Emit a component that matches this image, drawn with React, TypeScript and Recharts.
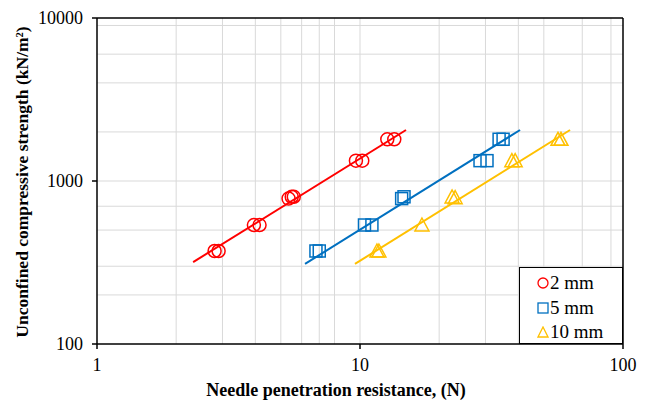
import React from "react";
import { ComposedChart, Scatter, XAxis, YAxis, CartesianGrid, ReferenceLine } from "recharts";

// needle penetration resistance (N) vs unconfined compressive strength (kN/m2)
const red2mmX = [2.8, 2.9, 3.95, 4.15, 5.35, 5.5, 5.6, 9.65, 10.2, 12.7, 13.5];
const red2mmY = [372, 372, 537, 537, 780, 800, 800, 1333, 1333, 1803, 1803];
const blue5mmX = [6.8, 7.0, 10.4, 11.1, 14.4, 14.7, 28.6, 30.4, 33.8, 35.0];
const blue5mmY = [372, 372, 537, 537, 780, 800, 1333, 1333, 1803, 1803];
const yel10mmX = [11.6, 11.8, 17.2, 22.4, 23.0, 37.8, 38.9, 56.6, 58.1];
const yel10mmY = [372, 372, 537, 798, 790, 1333, 1333, 1803, 1803];

// fitted trend lines (start/end)
const fit2mm = { x: [2.32, 14.96], y: [318, 2055] };
const fit5mm = { x: [6.18, 40.6], y: [310, 2055] };
const fit10mm = { x: [9.57, 62.9], y: [310, 2055] };

const xTicks = [1, 10, 100];
const yTicks = [100, 1000, 10000];
const xGrid = [2, 3, 4, 5, 6, 7, 8, 9, 10, 20, 30, 40, 50, 60, 70, 80, 90];
const yGrid = [200, 300, 400, 500, 600, 700, 800, 900, 1000, 2000, 3000, 4000, 5000, 6000, 7000, 8000, 9000];

const RED = "#FF0000";
const BLUE = "#0070C0";
const YEL = "#FFC000";
const FONT = "'Liberation Serif', 'Times New Roman', serif";

const toPts = (xs: number[], ys: number[]) => xs.map((x, i) => ({ x, y: ys[i] }));

const Circle = (p: any) => (
  <circle cx={p.cx} cy={p.cy} r={6.5} fill="none" stroke={RED} strokeWidth={1.5} />
);
const Square = (p: any) => (
  <rect x={p.cx - 6} y={p.cy - 6} width={12} height={12} fill="none" stroke={BLUE} strokeWidth={1.5} />
);
const Triangle = (p: any) => (
  <polygon
    points={`${p.cx},${p.cy - 7} ${p.cx - 7},${p.cy + 6} ${p.cx + 7},${p.cy + 6}`}
    fill="none"
    stroke={YEL}
    strokeWidth={1.5}
  />
);
const NoDot = () => <g />;

const legendItems = [
  { label: "2 mm", kind: "circle", color: RED },
  { label: "5 mm", kind: "square", color: BLUE },
  { label: "10 mm", kind: "triangle", color: YEL },
];

function LegendIcon({ kind, color }: { kind: string; color: string }) {
  return (
    <svg width={12} height={12} style={{ marginRight: 1 }}>
      {kind === "circle" && <circle cx={6} cy={6} r={5} fill="none" stroke={color} strokeWidth={1.3} />}
      {kind === "square" && <rect x={1} y={1} width={10} height={10} fill="none" stroke={color} strokeWidth={1.3} />}
      {kind === "triangle" && <polygon points="6,1 1,11 11,11" fill="none" stroke={color} strokeWidth={1.3} />}
    </svg>
  );
}

export default function App() {
  return (
    <div style={{ position: "absolute", left: 0, top: 0, width: 647, height: 401, background: "#fff", fontFamily: FONT, overflow: "hidden" }}>
      <ComposedChart width={647} height={401} margin={{ top: 18, right: 24, left: 37, bottom: 27 }}>
        <CartesianGrid
          stroke="#d9d9d9"
          strokeWidth={1}
          verticalValues={xGrid}
          horizontalValues={yGrid}
        />
        <XAxis
          type="number"
          dataKey="x"
          scale="log"
          domain={[1, 100]}
          ticks={xTicks}
          allowDataOverflow
          height={30}
          tickSize={5}
          tickMargin={9}
          stroke="#000"
          strokeWidth={1.5}
          tick={{ fill: "#000", fontSize: 18, fontFamily: FONT }}
        />
        <YAxis
          type="number"
          dataKey="y"
          scale="log"
          domain={[100, 10000]}
          ticks={yTicks}
          allowDataOverflow
          width={60}
          tickSize={5}
          tickMargin={9}
          stroke="#000"
          strokeWidth={1.5}
          tick={{ fill: "#000", fontSize: 18, fontFamily: FONT }}
        />
        <ReferenceLine y={10000} stroke="#000" strokeWidth={1.5} />
        <ReferenceLine x={100} stroke="#000" strokeWidth={1.5} />
        <Scatter data={toPts(fit2mm.x, fit2mm.y)} line={{ stroke: RED, strokeWidth: 2 }} shape={NoDot} isAnimationActive={false} />
        <Scatter data={toPts(fit5mm.x, fit5mm.y)} line={{ stroke: BLUE, strokeWidth: 2 }} shape={NoDot} isAnimationActive={false} />
        <Scatter data={toPts(fit10mm.x, fit10mm.y)} line={{ stroke: YEL, strokeWidth: 2 }} shape={NoDot} isAnimationActive={false} />
        <Scatter name="2 mm" data={toPts(red2mmX, red2mmY)} shape={Circle} isAnimationActive={false} />
        <Scatter name="5 mm" data={toPts(blue5mmX, blue5mmY)} shape={Square} isAnimationActive={false} />
        <Scatter name="10 mm" data={toPts(yel10mmX, yel10mmY)} shape={Triangle} isAnimationActive={false} />
      </ComposedChart>

      <div
        style={{
          position: "absolute",
          left: 519,
          top: 267,
          width: 104,
          height: 77,
          boxSizing: "border-box",
          border: "1.5px solid #000",
          background: "#fff",
          padding: "3px 0 0 17px",
        }}
      >
        {legendItems.map((it) => (
          <div key={it.label} style={{ display: "flex", alignItems: "center", height: 24.5, fontSize: 19, color: "#000" }}>
            <LegendIcon kind={it.kind} color={it.color} />
            <span>{it.label}</span>
          </div>
        ))}
      </div>

      <div
        style={{
          position: "absolute",
          left: 336 - 200,
          width: 400,
          top: 379,
          lineHeight: "22px",
          textAlign: "center",
          fontWeight: "bold",
          fontSize: 18,
          color: "#000",
          whiteSpace: "nowrap",
        }}
      >
        Needle penetration resistance, (N)
      </div>
      <div
        style={{
          position: "absolute",
          left: 22 - 200,
          top: 182 - 11,
          width: 400,
          height: 22,
          lineHeight: "22px",
          textAlign: "center",
          transform: "rotate(-90deg)",
          fontWeight: "bold",
          fontSize: 17.5,
          color: "#000",
          whiteSpace: "nowrap",
        }}
      >
        Unconfined compressive strength (kN/m²)
      </div>
    </div>
  );
}
